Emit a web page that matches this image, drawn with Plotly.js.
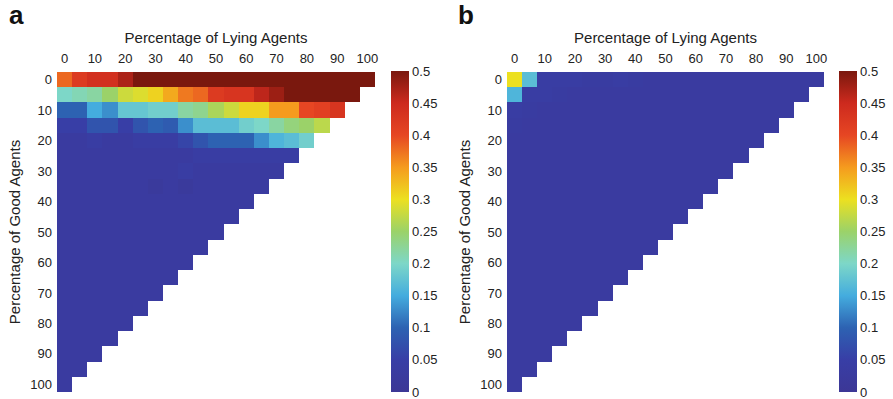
<!DOCTYPE html>
<html>
<head>
<meta charset="utf-8">
<script src="https://cdn.plot.ly/plotly-3.0.1.min.js"></script>
<style>html,body{margin:0;padding:0;background:#fff;}#chart{width:893px;height:399px;}</style>
</head>
<body>
<div id="chart"></div>
<script>
// Percentage of lying agents (columns) and of good agents (rows)
const lyingPct = [0,5,10,15,20,25,30,35,40,45,50,55,60,65,70,75,80,85,90,95,100];
const goodPct  = [0,5,10,15,20,25,30,35,40,45,50,55,60,65,70,75,80,85,90,95,100];
const tickVals = [0,10,20,30,40,50,60,70,80,90,100];

// Panel a values, one row per good-agent percentage (row length = 21 - row index)
const valuesA = [
  [0.38,0.42,0.44,0.44,0.47,0.50,0.50,0.50,0.50,0.50,0.50,0.50,0.50,0.50,0.50,0.50,0.50,0.50,0.50,0.50,0.50],
  [0.20,0.21,0.22,0.25,0.28,0.29,0.31,0.34,0.37,0.38,0.42,0.43,0.43,0.46,0.48,0.50,0.50,0.50,0.50,0.50],
  [0.10,0.10,0.15,0.13,0.18,0.18,0.19,0.19,0.22,0.23,0.26,0.28,0.31,0.31,0.35,0.35,0.40,0.41,0.43],
  [0.05,0.05,0.08,0.08,0.05,0.08,0.10,0.09,0.13,0.17,0.17,0.17,0.19,0.20,0.22,0.24,0.25,0.27],
  [0.03,0.03,0.04,0.03,0.03,0.04,0.04,0.04,0.06,0.08,0.10,0.10,0.10,0.13,0.16,0.17,0.19],
  [0.03,0.03,0.03,0.03,0.03,0.03,0.03,0.03,0.03,0.04,0.04,0.04,0.04,0.04,0.04,0.04],
  [0.03,0.03,0.03,0.03,0.03,0.03,0.03,0.03,0.04,0.03,0.03,0.03,0.03,0.03,0.03],
  [0.03,0.03,0.03,0.03,0.03,0.03,0.02,0.03,0.02,0.03,0.03,0.03,0.03,0.03],
  [0.03,0.03,0.03,0.03,0.03,0.03,0.03,0.03,0.03,0.03,0.03,0.03,0.03],
  [0.03,0.03,0.03,0.03,0.03,0.03,0.03,0.03,0.03,0.03,0.03,0.03],
  [0.03,0.03,0.03,0.03,0.03,0.03,0.03,0.03,0.03,0.03,0.03],
  [0.03,0.03,0.03,0.03,0.03,0.03,0.03,0.03,0.03,0.03],
  [0.03,0.03,0.03,0.03,0.03,0.03,0.03,0.03,0.03],
  [0.03,0.03,0.03,0.03,0.03,0.03,0.03,0.03],
  [0.03,0.03,0.03,0.03,0.03,0.03,0.03],
  [0.03,0.03,0.03,0.03,0.03,0.03],
  [0.03,0.03,0.03,0.03,0.03],
  [0.03,0.03,0.03,0.03],
  [0.03,0.03,0.03],
  [0.03,0.03],
  [0.03]
];

// Panel b values
const valuesB = [
  [0.30,0.17,0.04,0.04,0.04,0.035,0.035,0.04,0.035,0.03,0.03,0.03,0.03,0.03,0.03,0.03,0.03,0.03,0.03,0.03,0.03],
  [0.16,0.04,0.04,0.035,0.03,0.03,0.03,0.03,0.03,0.03,0.03,0.03,0.03,0.03,0.03,0.03,0.03,0.03,0.03,0.03],
  [0.04,0.035,0.03,0.03,0.03,0.03,0.03,0.03,0.03,0.03,0.03,0.03,0.03,0.03,0.03,0.03,0.03,0.03,0.03],
  [0.035,0.03,0.03,0.03,0.03,0.03,0.03,0.03,0.03,0.03,0.03,0.03,0.03,0.03,0.03,0.03,0.03,0.03],
  [0.03,0.03,0.03,0.03,0.03,0.03,0.03,0.03,0.03,0.03,0.03,0.03,0.03,0.03,0.03,0.03,0.03],
  [0.03,0.03,0.03,0.03,0.03,0.03,0.03,0.03,0.03,0.03,0.03,0.03,0.03,0.03,0.03,0.03],
  [0.03,0.03,0.03,0.03,0.03,0.03,0.03,0.03,0.03,0.03,0.03,0.03,0.03,0.03,0.03],
  [0.03,0.03,0.03,0.03,0.03,0.03,0.03,0.03,0.03,0.03,0.03,0.03,0.03,0.03],
  [0.03,0.03,0.03,0.03,0.03,0.03,0.03,0.03,0.03,0.03,0.03,0.03,0.03],
  [0.03,0.03,0.03,0.03,0.03,0.03,0.03,0.03,0.03,0.03,0.03,0.03],
  [0.03,0.03,0.03,0.03,0.03,0.03,0.03,0.03,0.03,0.03,0.03],
  [0.03,0.03,0.03,0.03,0.03,0.03,0.03,0.03,0.03,0.03],
  [0.03,0.03,0.03,0.03,0.03,0.03,0.03,0.03,0.03],
  [0.03,0.03,0.03,0.03,0.03,0.03,0.03,0.03],
  [0.03,0.03,0.03,0.03,0.03,0.03,0.03],
  [0.03,0.03,0.03,0.03,0.03,0.03],
  [0.03,0.03,0.03,0.03,0.03],
  [0.03,0.03,0.03,0.03],
  [0.03,0.03,0.03],
  [0.03,0.03],
  [0.03]
];

const colorbarTicks = [0,0.05,0.1,0.15,0.2,0.25,0.3,0.35,0.4,0.45,0.5];
const colorbarText = ['0','0.05','0.1','0.15','0.2','0.25','0.3','0.35','0.4','0.45','0.5'];

function pad(rows){
  return rows.map(r => lyingPct.map((_, i) => (i < r.length ? r[i] : null)));
}

const jetLike = [
  [0.0, 'rgb(60,55,150)'],
  [0.1, 'rgb(56,62,166)'],
  [0.2, 'rgb(45,98,178)'],
  [0.3, 'rgb(68,172,222)'],
  [0.4, 'rgb(125,215,200)'],
  [0.5, 'rgb(155,210,105)'],
  [0.6, 'rgb(236,224,32)'],
  [0.7, 'rgb(245,155,30)'],
  [0.8, 'rgb(230,70,35)'],
  [0.9, 'rgb(205,42,30)'],
  [1.0, 'rgb(122,24,14)']
];

const W = 893, H = 399;
const yTop = 1 - 72/H, yBot = 1 - 392/H;
const font = {family: 'Liberation Sans, Arial, sans-serif', size: 13, color: '#222'};

function cb(xpx){
  return {
    x: xpx/W, xanchor: 'left', xref: 'paper',
    y: yBot, yanchor: 'bottom', len: (393-72)/H, lenmode: 'fraction',
    thickness: 18, thicknessmode: 'pixels',
    outlinewidth: 0, ticks: '', ticklen: 0,
    tickvals: colorbarTicks, ticktext: colorbarText,
    tickfont: {family: font.family, size: 13, color: '#222'},
    xpad: 0, ypad: 0
  };
}

const traces = [
  {type: 'heatmap', x: lyingPct, y: goodPct, z: pad(valuesA), xaxis: 'x', yaxis: 'y',
   colorscale: jetLike, zmin: -0.0002, zmax: 0.5002, hoverongaps: false, colorbar: cb(391)},
  {type: 'heatmap', x: lyingPct, y: goodPct, z: pad(valuesB), xaxis: 'x2', yaxis: 'y2',
   colorscale: jetLike, zmin: -0.0002, zmax: 0.5002, hoverongaps: false, colorbar: cb(839)}
];

function xax(domain, anchor){
  return {
    domain: domain, anchor: anchor, side: 'top', range: [-2.5, 102.5],
    tickvals: tickVals, ticks: '', showgrid: false, zeroline: false, showline: false,
    tickfont: font, ticklabelstandoff: 5,
    title: {text: 'Percentage of Lying Agents', font: {family: font.family, size: 15, color: '#222'}, standoff: 4}
  };
}
function yax(domain, anchor){
  return {
    domain: domain, anchor: anchor, range: [102.5, -2.5],
    tickvals: tickVals, ticks: '', showgrid: false, zeroline: false, showline: false,
    tickfont: font, ticklabelstandoff: 4,
    title: {text: 'Percentage of Good Agents', font: {family: font.family, size: 15, color: '#222'}, standoff: 6}
  };
}

const zeroLabel = (xpx) => ({
  text: colorbarText[0], x: xpx/W, y: 1 - 392/H, xref: 'paper', yref: 'paper',
  xanchor: 'left', yanchor: 'middle', showarrow: false,
  font: {family: font.family, size: 13, color: '#222'}
});

const layout = {
  width: W, height: H,
  margin: {l: 0, r: 0, t: 0, b: 0},
  paper_bgcolor: '#fff', plot_bgcolor: '#fff',
  font: font,
  xaxis: xax([57/W, 375/W], 'y'),
  yaxis: yax([yBot, yTop], 'x'),
  xaxis2: xax([507/W, 824/W], 'y2'),
  yaxis2: yax([yBot, yTop], 'x2'),
  annotations: [
    {text: '<b>a</b>', x: 7/W, y: 1 - 15/H, xref: 'paper', yref: 'paper', xanchor: 'left', yanchor: 'middle',
     showarrow: false, font: {family: 'Liberation Sans, Arial, sans-serif', size: 26, color: '#111'}},
    {text: '<b>b</b>', x: 456/W, y: 1 - 15/H, xref: 'paper', yref: 'paper', xanchor: 'left', yanchor: 'middle',
     showarrow: false, font: {family: 'Liberation Sans, Arial, sans-serif', size: 26, color: '#111'}},
    zeroLabel(410), zeroLabel(858)
  ],
  showlegend: false
};

Plotly.newPlot('chart', traces, layout, {displayModeBar: false, staticPlot: true});
</script>
</body>
</html>
